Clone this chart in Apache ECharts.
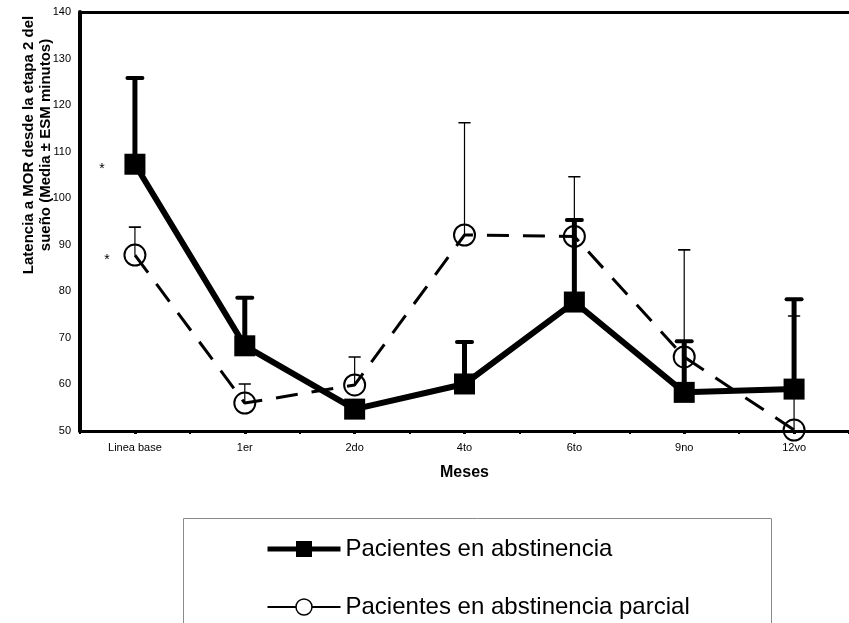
<!DOCTYPE html>
<html><head><meta charset="utf-8">
<script src="https://cdn.jsdelivr.net/npm/echarts@6/dist/echarts.min.js"></script>
<style>html,body{margin:0;padding:0;background:#fff}#c{width:849px;height:623px}</style>
</head><body><div id="c"></div>
<script>
const categories = ['Linea base', '1er', '2do', '4to', '6to', '9no', '12vo'];
const abstinencia = [107.3, 68.3, 54.7, 60.1, 77.7, 58.3, 59.0];
const abstinenciaErr = [18.5, 10.3, 0, 9.0, 17.6, 11.0, 19.3];
const parcial = [87.8, 56.0, 59.9, 92.1, 91.8, 65.9, 50.2];
const parcialErr = [6.0, 4.1, 6.0, 24.1, 12.8, 23.0, 24.5];
const yTicks = {min: 50, max: 140, interval: 10};
const asterisks = [{value: 106.4, label: '*'}, {value: 87.0, label: '*'}];
const nameA = 'Pacientes en abstinencia';
const nameP = 'Pacientes en abstinencia parcial';
const yTitle = 'Latencia a MOR desde la etapa 2 del\nsueño (Media ± ESM minutos)';

const FONT = 'Liberation Sans, Arial, sans-serif';
const chart = echarts.init(document.getElementById('c'), null, {renderer: 'canvas'});

function errData(means, errs) {
  return means.map((m, i) => [i, m, m + errs[i]]);
}
function errRender(lw, capW, capH) {
  return function (params, api) {
    const lo = api.coord([api.value(0), api.value(1)]);
    const hi = api.coord([api.value(0), api.value(2)]);
    if (Math.abs(lo[1] - hi[1]) < 1) return null;
    return {
      type: 'group',
      children: [
        {type: 'line', shape: {x1: lo[0], y1: lo[1], x2: hi[0], y2: hi[1]},
         style: {stroke: '#000', lineWidth: lw}},
        {type: 'line', shape: {x1: hi[0] - capW / 2, y1: hi[1], x2: hi[0] + capW / 2, y2: hi[1]},
         style: {stroke: '#000', lineWidth: capH, lineCap: 'round'}}
      ]
    };
  };
}

chart.setOption({
  animation: false,
  backgroundColor: '#fff',
  textStyle: {fontFamily: FONT, color: '#000'},
  grid: {left: 80, right: -3, top: 12, bottom: 192, containLabel: false},
  graphic: [{
    type: 'rect', left: 183, top: 518, z: -1,
    shape: {width: 588, height: 200},
    style: {fill: '#fff', stroke: '#8a8a8a', lineWidth: 1}
  }, {
    type: 'text', x: 37, y: 145, rotation: Math.PI / 2,
    style: {text: yTitle, font: 'bold 15px ' + FONT, fill: '#000',
      align: 'center', verticalAlign: 'middle', lineHeight: 17}
  }],
  legend: {
    orient: 'vertical', left: 265, top: 537, height: 120, padding: 0,
    itemWidth: 73, itemHeight: 20, itemGap: 34,
    textStyle: {fontSize: 24, color: '#000', fontFamily: FONT},
    data: [
      {name: nameA, lineStyle: {width: 5, type: 'solid'}, itemStyle: {color: '#000'}},
      {name: nameP, lineStyle: {width: 2, type: 'solid'}, itemStyle: {color: '#fff', borderColor: '#000', borderWidth: 1.5}}
    ]
  },
  xAxis: [{
    type: 'category', data: categories, position: 'bottom',
    axisLine: {show: true, lineStyle: {color: '#000', width: 3}},
    axisTick: {show: true, alignWithLabel: true, length: 3, lineStyle: {color: '#000', width: 3}},
    axisLabel: {fontSize: 11, color: '#000', margin: 11},
    name: 'Meses', nameLocation: 'middle', nameGap: 34,
    nameTextStyle: {fontSize: 16, fontWeight: 'bold', color: '#000'},
    splitLine: {show: false}
  }, {
    type: 'category', data: categories, position: 'bottom',
    axisLine: {show: false},
    axisTick: {show: true, alignWithLabel: false, inside: false, length: 3, lineStyle: {color: '#000', width: 2}},
    axisLabel: {show: false}, splitLine: {show: false}
  }, {
    type: 'category', data: categories, position: 'top',
    axisLine: {show: true, lineStyle: {color: '#000', width: 3}},
    axisTick: {show: false}, axisLabel: {show: false}, splitLine: {show: false}
  }],
  yAxis: {
    type: 'value', min: yTicks.min, max: yTicks.max, interval: yTicks.interval,
    axisLine: {show: true, lineStyle: {color: '#000', width: 4}},
    axisTick: {show: false},
    splitLine: {show: false},
    axisLabel: {fontSize: 11, color: '#000', margin: 9}
  },
  series: [
    {
      type: 'custom', name: 'errA', xAxisIndex: 0, z: 2,
      renderItem: errRender(5, 15, 4),
      data: errData(abstinencia, abstinenciaErr),
      encode: {x: 0, y: [1, 2]}, silent: true
    },
    {
      type: 'custom', name: 'errP', xAxisIndex: 0, z: 2,
      renderItem: errRender(1.2, 11, 1.6),
      data: errData(parcial, parcialErr),
      encode: {x: 0, y: [1, 2]}, silent: true
    },
    {
      type: 'line', name: nameP, data: parcial, xAxisIndex: 0, z: 3,
      symbol: 'circle', symbolSize: 21,
      lineStyle: {color: '#000', width: 3, type: [22, 14]},
      itemStyle: {color: 'rgba(0,0,0,0)', borderColor: '#000', borderWidth: 2}
    },
    {
      type: 'line', name: nameA, data: abstinencia, xAxisIndex: 0, z: 4,
      symbol: 'rect', symbolSize: 21,
      lineStyle: {color: '#000', width: 6},
      itemStyle: {color: '#000'}
    },
    {
      type: 'custom', name: 'ast', xAxisIndex: 0, z: 5,
      data: asterisks.map(a => [0, a.value]),
      encode: {x: 0, y: 1},
      renderItem: function (params, api) {
        const p = api.coord([0, api.value(1)]);
        return {type: 'text', x: p[0] - 33 + params.dataIndex * 5, y: p[1] + 1,
          style: {text: asterisks[params.dataIndex].label, fill: '#000',
            align: 'center', verticalAlign: 'middle', font: '14px ' + FONT}};
      }
    }
  ]
});
</script></body></html>
